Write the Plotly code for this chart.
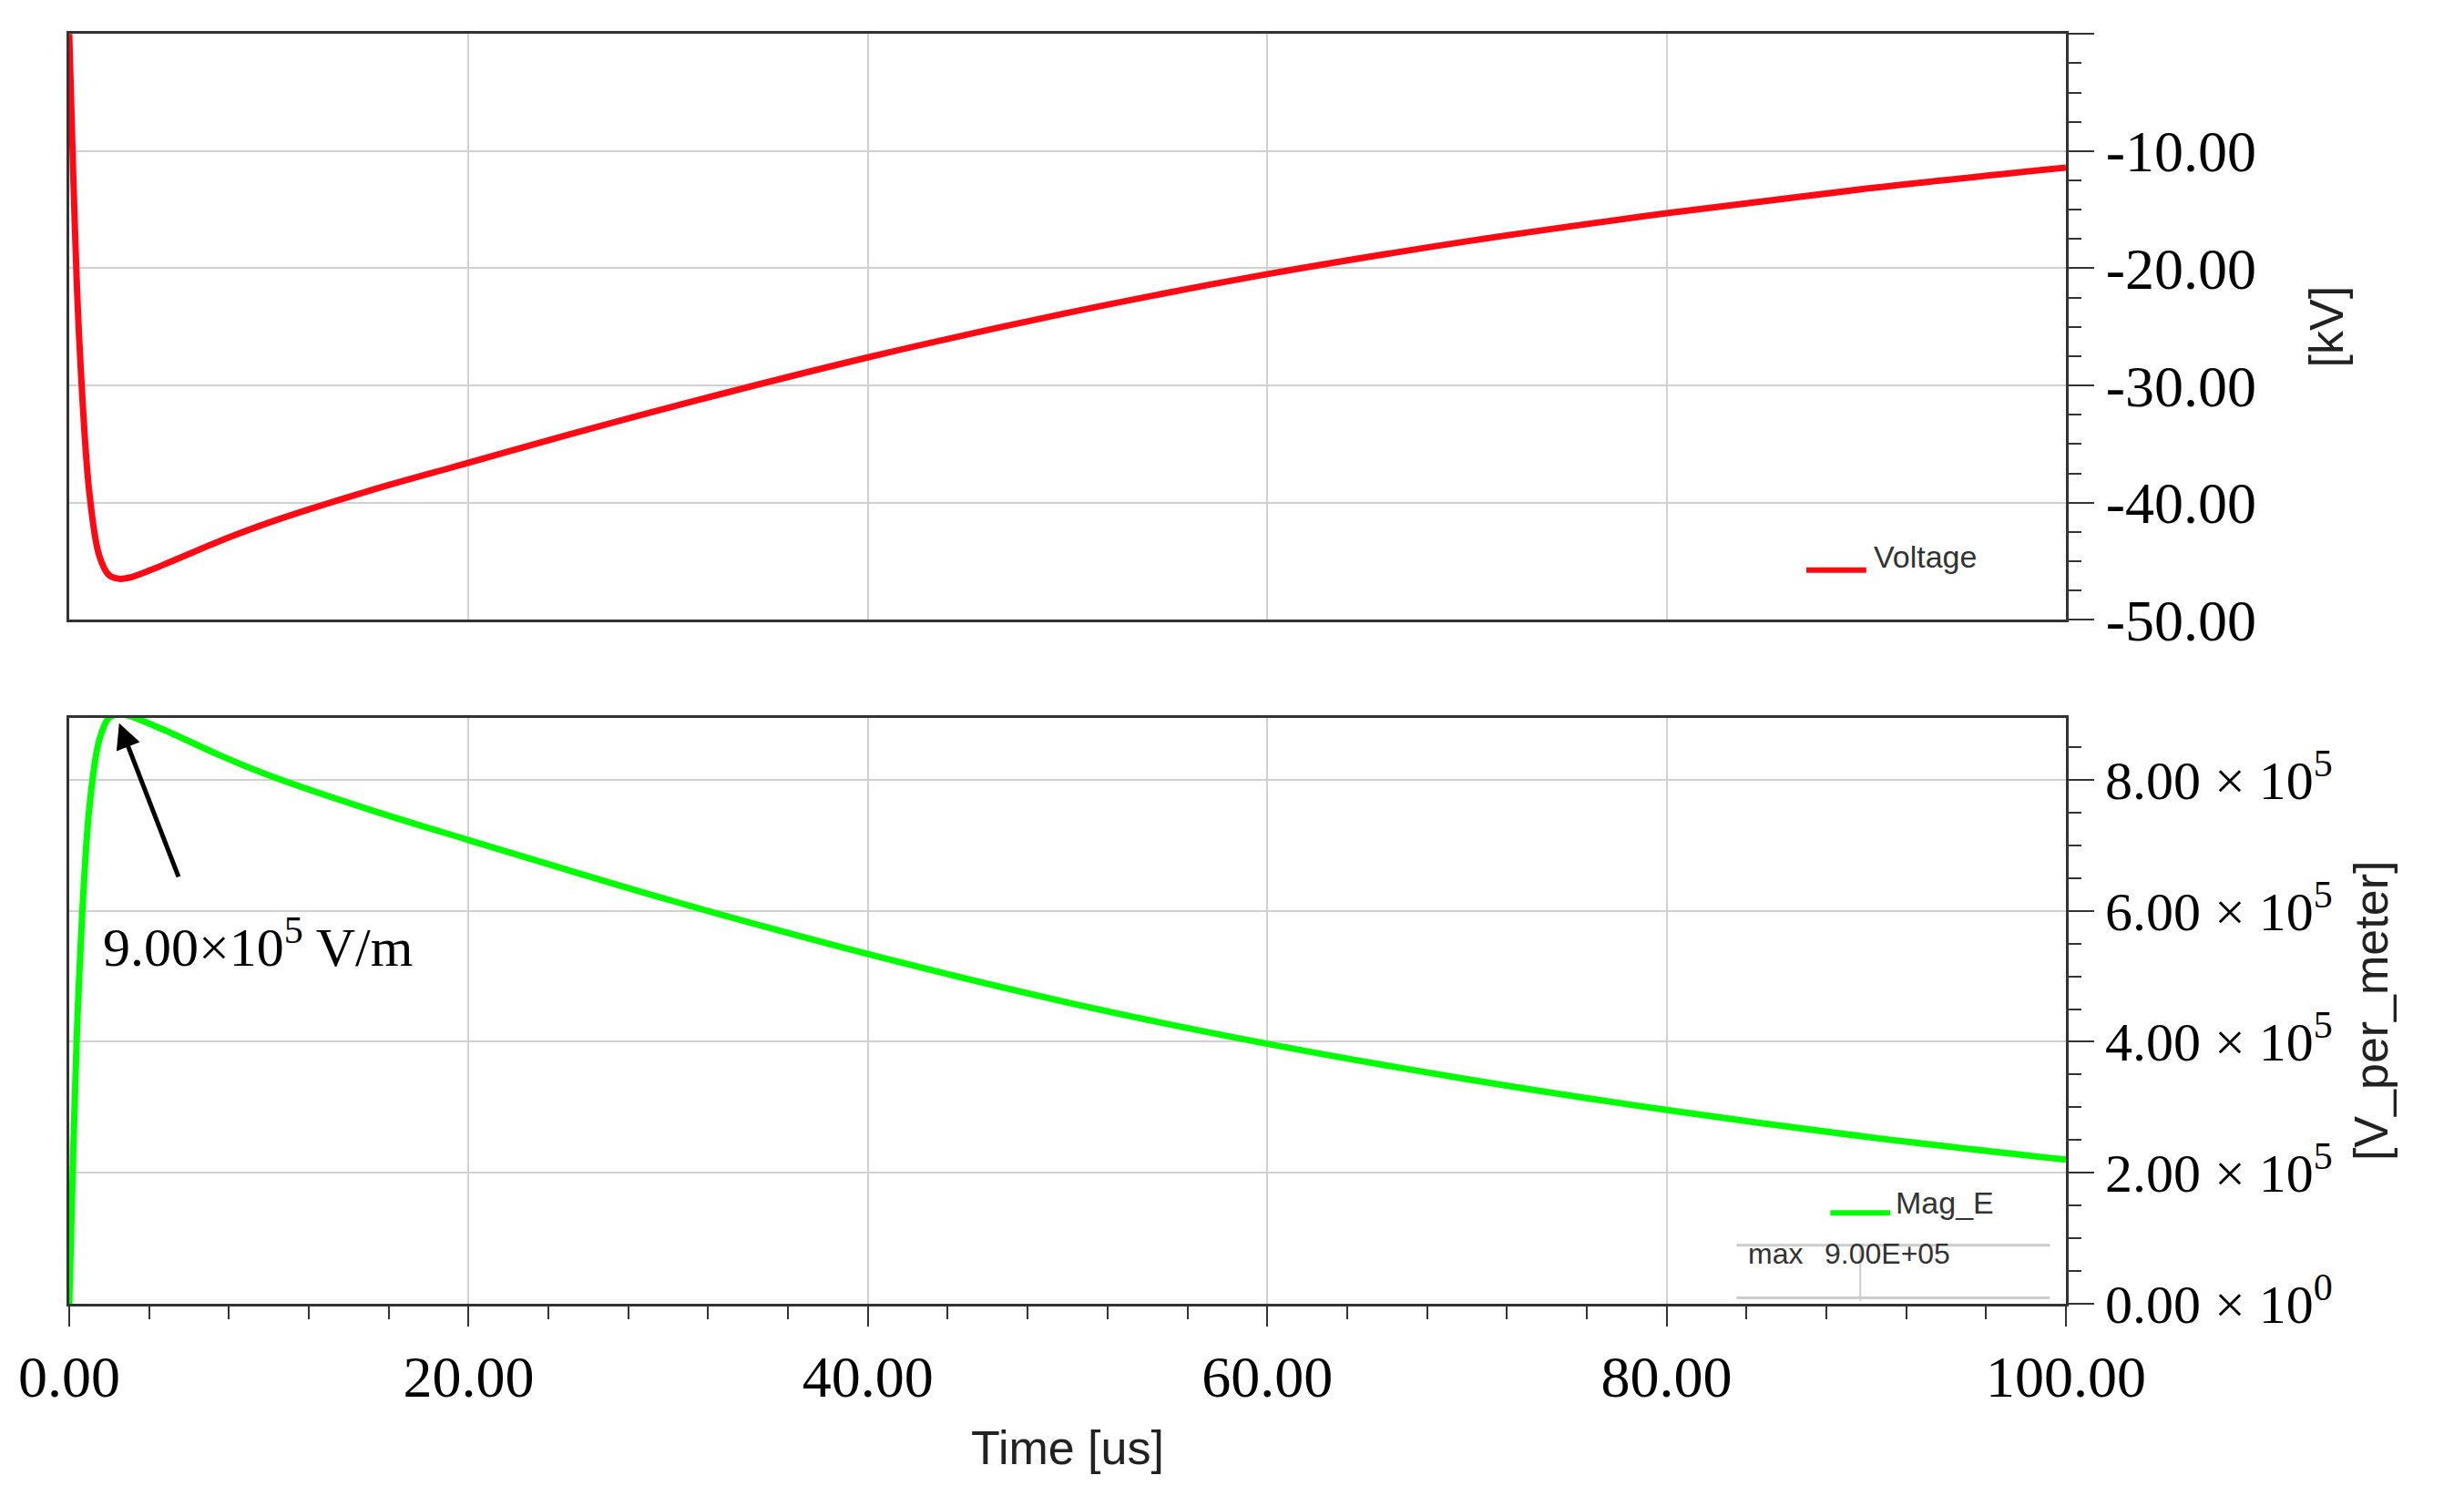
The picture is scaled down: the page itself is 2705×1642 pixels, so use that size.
import plotly.graph_objects as go
from plotly.subplots import make_subplots

t = [0, 0.2, 0.5, 1, 1.5, 2, 2.5, 3, 4, 5, 7.5, 10, 15, 20, 25, 30, 40, 50, 60, 70, 80, 90, 100]
voltage_kv = [0, -12, -26, -39, -44.5, -46.2, -46.5, -46.4, -45.8, -45.1, -43.3, -41.7, -39.0,
              -36.6, -34.2, -31.9, -27.6, -23.8, -20.5, -17.7, -15.3, -13.2, -11.4]
mag_e = [0, 2.3e5, 5.0e5, 7.55e5, 8.6e5, 8.95e5, 9.0e5, 8.98e5, 8.86e5, 8.73e5, 8.38e5, 8.07e5,
         7.55e5, 7.08e5, 6.62e5, 6.17e5, 5.34e5, 4.6e5, 3.97e5, 3.43e5, 2.96e5, 2.55e5, 2.2e5]
x_ticks = [0, 20, 40, 60, 80, 100]
x_labels = ["0.00", "20.00", "40.00", "60.00", "80.00", "100.00"]
v_ticks = [0, -10, -20, -30, -40, -50]
v_labels = ["0.00", "-10.00", "-20.00", "-30.00", "-40.00", "-50.00"]
e_ticks = [0, 2e5, 4e5, 6e5, 8e5]
e_labels = ["0.00 × 10<sup>0</sup>", "2.00 × 10<sup>5</sup>", "4.00 × 10<sup>5</sup>",
            "6.00 × 10<sup>5</sup>", "8.00 × 10<sup>5</sup>"]
peak_t, peak_e = 2.5, 9.0e5

fig = make_subplots(rows=2, cols=1, vertical_spacing=0.077, row_heights=[0.5, 0.5])
fig.add_trace(go.Scatter(x=t, y=voltage_kv, mode="lines", line=dict(color="#ff0a14", width=7, shape="spline"),
                         showlegend=False, cliponaxis=False), row=1, col=1)
fig.add_trace(go.Scatter(x=t, y=mag_e, mode="lines", line=dict(color="#00ff00", width=7, shape="spline"),
                         showlegend=False), row=2, col=1)

serif = "Liberation Serif"
sans = "Liberation Sans"
ax_common = dict(showline=True, linecolor="#333", linewidth=3, mirror=True,
                 showgrid=True, gridcolor="#d0d0d0", gridwidth=2, zeroline=False)
fig.update_xaxes(range=[0, 100], tickvals=x_ticks, **ax_common)
fig.update_xaxes(showticklabels=False, ticks="", row=1, col=1)
fig.update_xaxes(ticktext=x_labels, ticks="outside", ticklen=22, tickwidth=2, tickcolor="#333",
                 minor=dict(dtick=4, ticks="outside", ticklen=14, tickcolor="#333", showgrid=False),
                 tickfont=dict(family=serif, size=64, color="black"),
                 title=dict(text="Time [us]", font=dict(family=sans, size=52, color="#222"), standoff=25),
                 row=2, col=1)
fig.update_yaxes(side="right", ticks="outside", ticklen=28, tickwidth=2, tickcolor="#333", **ax_common)
fig.update_yaxes(range=[-50, 0.02], tickvals=v_ticks, ticktext=v_labels,
                 minor=dict(dtick=2.5, ticks="outside", ticklen=14, tickcolor="#333", showgrid=False),
                 tickfont=dict(family=serif, size=64, color="black"),
                 title=dict(text="[kV]", font=dict(family=sans, size=52, color="#222"), standoff=60),
                 row=1, col=1)
fig.update_yaxes(range=[0, 8.95e5], tickvals=e_ticks, ticktext=e_labels,
                 minor=dict(dtick=5e4, ticks="outside", ticklen=14, tickcolor="#333", showgrid=False),
                 tickfont=dict(family=serif, size=60, color="black"),
                 title=dict(text="[V_per_meter]", font=dict(family=sans, size=52, color="#222"), standoff=25),
                 row=2, col=1)

# legend for voltage (top)
fig.add_shape(type="line", xref="x domain", yref="y domain", x0=0.87, x1=0.9, y0=0.085, y1=0.085,
              line=dict(color="#ff0a14", width=6))
fig.add_annotation(xref="x domain", yref="y domain", x=0.903, y=0.075, text="Voltage", showarrow=False,
                   xanchor="left", font=dict(family=sans, size=34, color="#333"))
# legend + table for Mag_E (bottom)
fig.add_shape(type="line", xref="x2 domain", yref="y2 domain", x0=0.882, x1=0.912, y0=0.155, y1=0.155,
              line=dict(color="#00ff00", width=6))
fig.add_annotation(xref="x2 domain", yref="y2 domain", x=0.914, y=0.14, text="Mag_E", showarrow=False,
                   xanchor="left", font=dict(family=sans, size=34, color="#333"))
for yy in [0.1, 0.01]:
    fig.add_shape(type="line", xref="x2 domain", yref="y2 domain", x0=0.835, x1=0.992, y0=yy, y1=yy,
                  line=dict(color="#cccccc", width=3))
fig.add_shape(type="line", xref="x2 domain", yref="y2 domain", x0=0.897, x1=0.897, y0=0.005, y1=0.1,
              line=dict(color="#cccccc", width=2))
fig.add_annotation(xref="x2 domain", yref="y2 domain", x=0.869, y=0.055, text="max", showarrow=False,
                   font=dict(family=sans, size=32, color="#333"))
fig.add_annotation(xref="x2 domain", yref="y2 domain", x=0.943, y=0.055, text="9.00E+05", showarrow=False,
                   font=dict(family=sans, size=32, color="#333"))
# peak annotation
fig.add_annotation(x=peak_t, y=peak_e * 0.985, xref="x2", yref="y2", ax=5.5, ay=6.5e5, axref="x2", ayref="y2",
                   showarrow=True, arrowhead=2, arrowsize=1.1, arrowwidth=5, arrowcolor="black", text="")
fig.add_annotation(x=1.6, y=5.5e5, xref="x2", yref="y2", xanchor="left", showarrow=False,
                   text="9.00×10<sup>5</sup> V/m", font=dict(family=serif, size=60, color="black"))

fig.update_layout(width=2705, height=1642, plot_bgcolor="white", paper_bgcolor="white",
                  margin=dict(l=64, r=445, t=29, b=219), showlegend=False)
fig.write_html("out.html")
